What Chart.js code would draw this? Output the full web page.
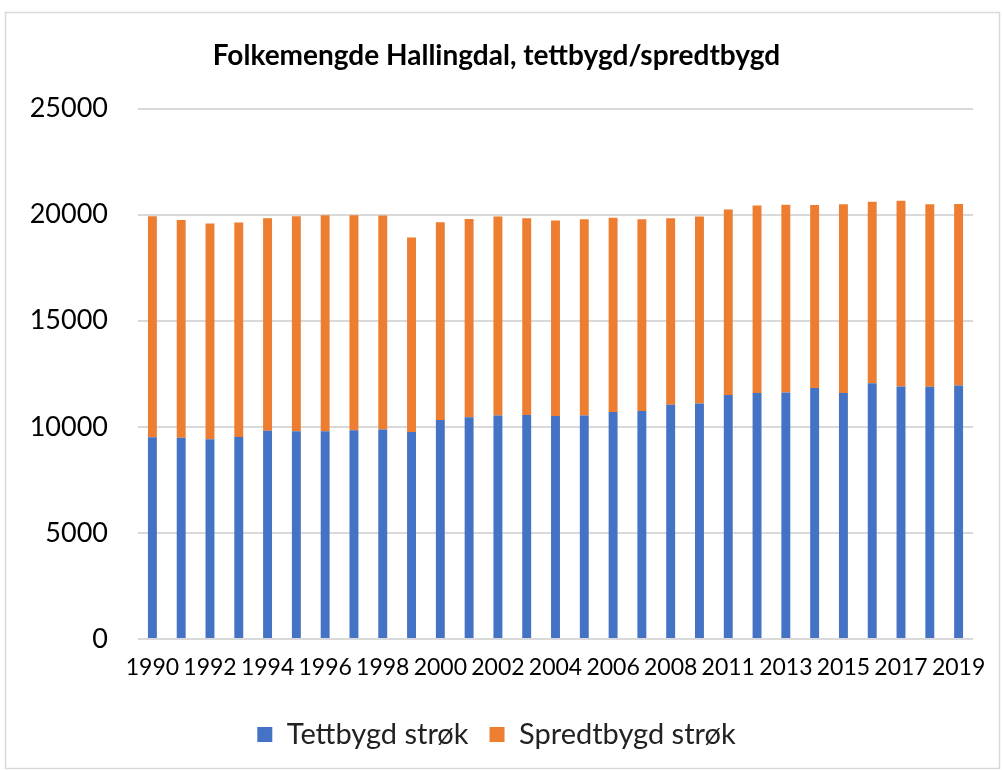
<!DOCTYPE html>
<html>
<head>
<meta charset="utf-8">
<script src="https://cdn.jsdelivr.net/npm/chart.js@4"></script>
<style>
  html, body { margin: 0; padding: 0; background: #fff; }
  #wrap { width: 1002px; height: 770px; position: relative; }
</style>
</head>
<body>
<div id="wrap"><canvas id="myChart" width="1002" height="770"></canvas></div>
<script>
const years = ['1990', '1991', '1992', '1993', '1994', '1995', '1996', '1997', '1998', '1999',
    '2000', '2001', '2002', '2003', '2004', '2005', '2006', '2007', '2008', '2010',
    '2011', '2012', '2013', '2014', '2015', '2016', '2017', '2018', '2019'];
const tettbygd = [9510, 9490, 9410, 9520, 9810, 9790, 9790, 9840, 9880, 9760,
    10320, 10450, 10540, 10560, 10510, 10540, 10700, 10750, 11040, 11100,
    11500, 11590, 11620, 11830, 11590, 12050, 11900, 11890, 11950];
const spredtbygd = [10420, 10260, 10170, 10110, 10020, 10140, 10180, 10130, 10080, 9160,
    9320, 9350, 9370, 9270, 9210, 9240, 9160, 9030, 8790, 8820,
    8740, 8840, 8850, 8630, 8900, 8560, 8760, 8600, 8550];
const yTicks = [0, 5000, 10000, 15000, 20000, 25000];

document.addEventListener('DOMContentLoaded', function() {
    const ctx = document.getElementById('myChart').getContext('2d');

    // light frame round the whole chart
    const frame = {
        id: 'frame',
        beforeDraw(chart) {
            const c = chart.ctx;
            c.save();
            c.fillStyle = '#fff';
            c.fillRect(0, 0, chart.width, chart.height);
            c.strokeStyle = '#d9d9d9';
            c.lineWidth = 1.5;
            c.strokeRect(5.5, 12.5, chart.width - 8, chart.height - 14);
            c.restore();
        }
    };

    new Chart(ctx, {
        type: 'bar',
        data: {
            labels: years,
            datasets: [
                {
                    label: 'Tettbygd strøk',
                    data: tettbygd,
                    backgroundColor: '#4472C4',
                    barPercentage: 0.31,
                    categoryPercentage: 1
                },
                {
                    label: 'Spredtbygd strøk',
                    data: spredtbygd,
                    backgroundColor: '#ED7D31',
                    barPercentage: 0.31,
                    categoryPercentage: 1
                }
            ]
        },
        options: {
            responsive: false,
            animation: false,
            layout: { padding: { left: 20, right: 29, top: 19, bottom: 11 } },
            plugins: {
                title: {
                    display: true,
                    text: 'Folkemengde Hallingdal, tettbygd/spredtbygd',
                    color: '#000',
                    font: { family: 'Lato', size: 28, weight: 'bold' },
                    padding: { top: 20, bottom: 36 }
                },
                legend: {
                    position: 'bottom',
                    labels: {
                        color: '#222',
                        font: { family: 'Lato', size: 29 },
                        boxWidth: 15,
                        boxHeight: 15,
                        padding: 21
                    }
                },
                tooltip: { enabled: false }
            },
            scales: {
                x: {
                    stacked: true,
                    grid: { display: false },
                    border: { display: false },
                    ticks: {
                        autoSkip: false,
                        maxRotation: 0,
                        color: '#000',
                        padding: 7,
                        font: { family: 'Lato', size: 23 },
                        callback: function(value, index) {
                            return index % 2 === 0 ? this.getLabelForValue(value) : '';
                        }
                    },
                    afterFit: function(scale) { scale.height = 60; }
                },
                y: {
                    stacked: true,
                    min: 0,
                    max: 25000,
                    afterBuildTicks: function(scale) {
                        scale.ticks = yTicks.map(v => ({ value: v }));
                    },
                    grid: { color: '#d9d9d9', lineWidth: 2, drawTicks: false },
                    border: { display: false },
                    ticks: {
                        color: '#000',
                        padding: 30,
                        font: { family: 'Lato', size: 27 },
                        callback: function(value) { return String(value); }
                    },
                    afterFit: function(scale) { scale.width = 118; }
                }
            }
        },
        plugins: [frame]
    });
});
</script>
</body>
</html>
